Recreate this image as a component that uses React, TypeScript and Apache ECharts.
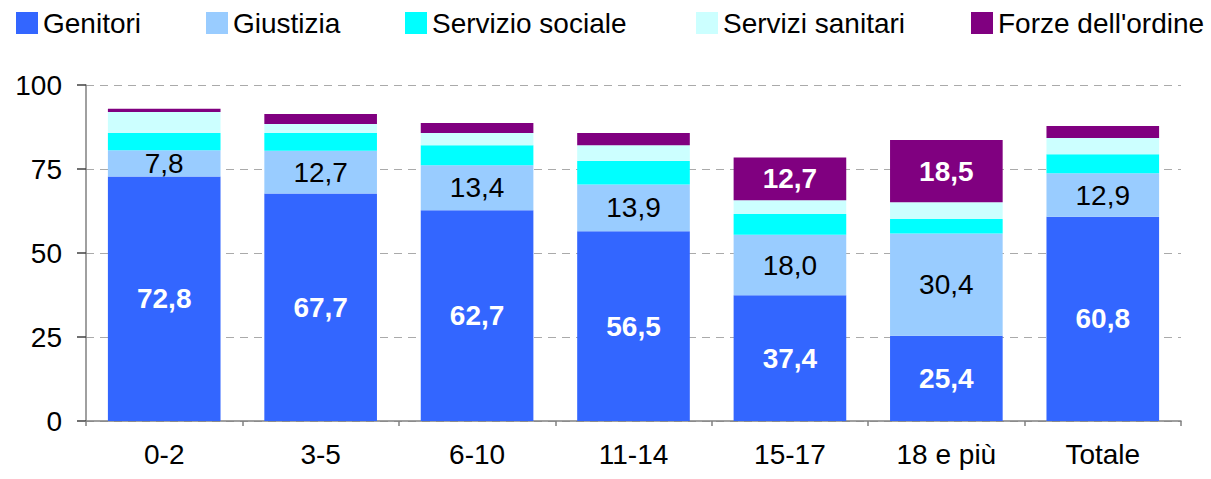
import React, { useEffect, useRef } from "react";
import * as echarts from "echarts";

const categories = ["0-2", "3-5", "6-10", "11-14", "15-17", "18 e più", "Totale"];
const genitori = [72.8, 67.7, 62.7, 56.5, 37.4, 25.4, 60.8];
const giustizia = [7.8, 12.7, 13.4, 13.9, 18.0, 30.4, 12.9];
const servizioSociale = [5.1, 5.3, 6.0, 7.0, 6.2, 4.3, 5.7];
const serviziSanitari = [6.3, 2.7, 3.6, 4.7, 4.1, 5.0, 4.8];
const forzeOrdine = [0.9, 3.0, 3.0, 3.6, 12.7, 18.5, 3.6];
const yTicks = [0, 25, 50, 75, 100];

const seriesNames = ["Genitori", "Giustizia", "Servizio sociale", "Servizi sanitari", "Forze dell'ordine"];
const seriesColors = ["#3366FF", "#99CCFF", "#00FFFF", "#CCFFFF", "#800080"];
const legendLefts = [16, 206, 405, 696, 971];

const FONT = "'Liberation Sans', Arial, sans-serif";
const fmt = (v: number) => v.toFixed(1).replace(".", ",");

export default function App() {
  const ref = useRef<HTMLDivElement>(null);
  useEffect(() => {
    if (!ref.current) return;
    const chart = echarts.init(ref.current, undefined, { renderer: "svg" });
    const values = [genitori, giustizia, servizioSociale, serviziSanitari, forzeOrdine];
    const labelCfg = [
      { show: true, position: "inside", color: "#ffffff", fontWeight: "bold", fontSize: 28, fontFamily: FONT, formatter: (p: any) => fmt(p.value) },
      { show: true, position: "inside", color: "#000000", fontSize: 28, fontFamily: FONT, formatter: (p: any) => fmt(p.value) },
      { show: false },
      { show: false },
      { show: true, position: "inside", color: "#ffffff", fontWeight: "bold", fontSize: 28, fontFamily: FONT, formatter: (p: any) => (p.value >= 10 ? fmt(p.value) : "") },
    ];
    chart.setOption({
      animation: false,
      backgroundColor: "#ffffff",
      textStyle: { fontFamily: FONT },
      legend: seriesNames.map((n, i) => ({
        data: [n],
        left: legendLefts[i],
        top: 9,
        padding: 0,
        itemWidth: 22,
        itemHeight: 22,
        icon: "rect",
        selectedMode: false,
        textStyle: { fontSize: 28, color: "#000", fontFamily: FONT },
      })),
      grid: { left: 86, right: 30, top: 85, bottom: 58 },
      xAxis: {
        type: "category",
        data: categories,
        axisLine: { lineStyle: { color: "#808080", width: 1.5 } },
        axisTick: { show: true, length: 5, lineStyle: { color: "#808080", width: 1.5 } },
        axisLabel: { fontSize: 28, color: "#000", margin: 19, fontFamily: FONT },
      },
      yAxis: {
        type: "value",
        min: yTicks[0],
        max: yTicks[yTicks.length - 1],
        interval: 25,
        axisLine: { show: true, lineStyle: { color: "#808080", width: 1.5 } },
        axisTick: { show: true, length: 9, lineStyle: { color: "#404040", width: 1.5 } },
        axisLabel: { fontSize: 28, color: "#000", margin: 24, fontFamily: FONT },
        splitLine: { show: true, lineStyle: { color: "#aaaaaa", type: [8, 6], width: 1 } },
      },
      series: seriesNames.map((n, i) => ({
        name: n,
        type: "bar",
        stack: "total",
        barCategoryGap: "28%",
        data: values[i],
        itemStyle: { color: seriesColors[i] },
        label: labelCfg[i],
      })),
    });
    return () => chart.dispose();
  }, []);
  return <div ref={ref} style={{ position: "fixed", left: 0, top: 0, width: 1211, height: 479 }} />;
}
